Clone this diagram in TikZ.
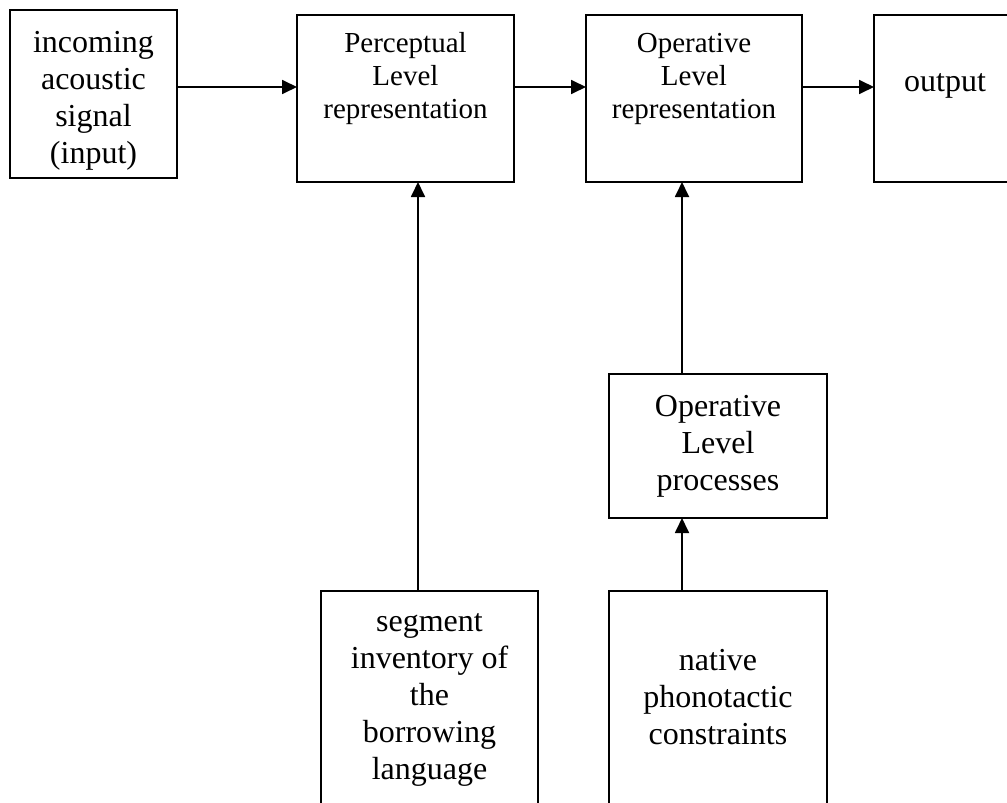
\documentclass[tikz,border=0pt]{standalone}
\usepackage{fontspec}
\setmainfont{Liberation Serif}
\usetikzlibrary{arrows.meta}
\begin{document}
\begin{tikzpicture}[x=1pt,y=-1pt,
  box/.style={draw, line width=1.8pt, rectangle, inner sep=0pt, outer sep=0pt},
  big/.style={align=center, font=\fontsize{32}{37}\selectfont, inner sep=0pt},
  small/.style={align=center, font=\fontsize{29}{33}\selectfont, inner sep=0pt},
  arr/.style={line width=1.8pt, -{Triangle[length=15pt,width=14pt]}}]
\useasboundingbox (0,0) rectangle (1007,803);
\clip (0,0) rectangle (1007,803);
% boxes
\node[box, minimum width=167pt, minimum height=168pt] (box1) at (93.5,94) {};
\node[box, minimum width=217pt, minimum height=167pt] (box2) at (405.5,98.5) {};
\node[box, minimum width=216pt, minimum height=167pt] (box3) at (694,98.5) {};
\node[box, minimum width=156pt, minimum height=167pt] (box4) at (952,98.5) {};
\node[box, minimum width=218pt, minimum height=144pt] (box5) at (718,446) {};
\node[box, minimum width=217pt, minimum height=239pt] (box6) at (429.5,710.5) {};
\node[box, minimum width=218pt, minimum height=239pt] (box7) at (718,710.5) {};
% texts
\node[big] (t1) at (93.5,101) {incoming\\acoustic\\signal\\(input)};
\node[small] (t2) at (405.5,79) {Perceptual\\Level\\representation};
\node[small] (t3) at (694,79) {Operative\\Level\\representation};
\node[big] (t4) at (945,86) {output};
\node[big] (t5) at (718,446) {Operative\\Level\\processes};
\node[big] (t6) at (429.5,700) {segment\\inventory of\\the\\borrowing\\language};
\node[big] (t7) at (718,697) {native\\phonotactic\\constraints};
% connector guides
\coordinate (row) at (0,87);
\coordinate (colA) at (418,0);
\coordinate (colB) at (682,0);
% connectors
\draw[arr] (box1.east |- row) -- (box2.west |- row);
\draw[arr] (box2.east |- row) -- (box3.west |- row);
\draw[arr] (box3.east |- row) -- (box4.west |- row);
\draw[arr] (box6.north -| colA) -- (box2.south -| colA);
\draw[arr] (box5.north -| colB) -- (box3.south -| colB);
\draw[arr] (box7.north -| colB) -- (box5.south -| colB);
\end{tikzpicture}
\end{document}
